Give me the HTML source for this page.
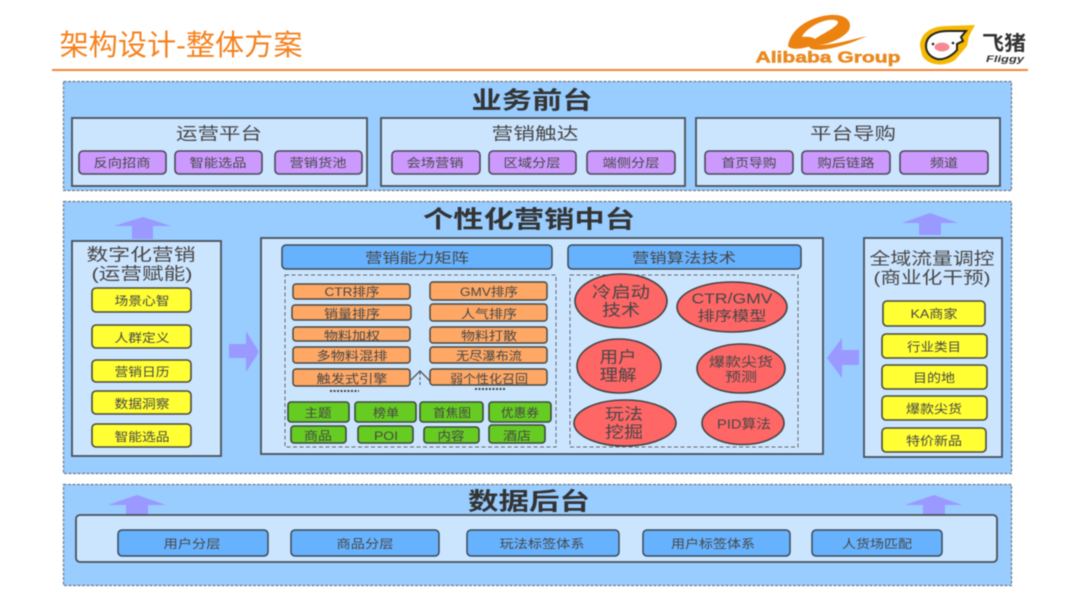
<!DOCTYPE html>
<html lang="zh"><head><meta charset="utf-8"><style>
html,body{margin:0;padding:0;background:#fff;width:1080px;height:603px;overflow:hidden}
svg{display:block;filter:blur(.6px)}
text{font-family:"Liberation Sans","Noto Sans CJK SC",sans-serif;fill:#474747;text-anchor:middle;dominant-baseline:central;transform:translateY(1px)}
.panel{fill:#99ccff;stroke:#6e7b88;stroke-width:1.2;stroke-dasharray:3 1.5}
.box{fill:#cce5ff;stroke:#4a5058;stroke-width:1.8}
.p{fill:#cc99ff;stroke:#4a4a55;stroke-width:1.6}
.y{fill:#ffff33;stroke:#4a4a40;stroke-width:1.6}
.o{fill:#ffa866;stroke:#4a4a40;stroke-width:1.5}
.g{fill:#66cc22;stroke:#3d4a3d;stroke-width:1.6}
.b{fill:#66b2ff;stroke:#3d4a55;stroke-width:1.5}
.e{fill:#ff6666;stroke:#444;stroke-width:1.6}
.d{fill:none;stroke:#666;stroke-width:1;stroke-dasharray:4 2.5}
.a{fill:#9999ff}
.h{font-size:24px;font-weight:bold;fill:#333}
.t{font-size:17px}.s{font-size:12px}
</style></head><body>
<svg width="1080" height="603" viewBox="0 0 1080 603" xmlns="http://www.w3.org/2000/svg">
<text x="181" y="45" textLength="243" lengthAdjust="spacingAndGlyphs" style="font-size:29px;fill:#f5821f">架构设计-整体方案</text>
<line x1="52" y1="70" x2="1028" y2="70" stroke="#f5853a" stroke-width="2"/>
<path d="M788 46C790 30 808 17 830 15C845 14 853 21 849 30C844 38 826 46 815 45C830 46 850 40 867 36C850 44 825 52 812 49C806 47 810 42 818 37C828 31 838 26 838 22C836 18 822 19 810 28C806 31 803 34 802 37C810 36 818 38 816 43C812 47 792 52 788 46Z" fill="#ec8210"/>
<text x="828" y="57" textLength="145" lengthAdjust="spacingAndGlyphs" style="font-size:16px;font-weight:bold;fill:#e98a20;stroke:#e98a20;stroke-width:.5">Alibaba Group</text>
<path d="M920 46C920 33 932 26 947 26L975 25L969 36L967 46L955 60C945 67 927 66 922 55Z" fill="#f6b800"/>
<path d="M926 46C926 36 935 31 948 31L966 31L961 37L963 41L957 44L957 50C950 58 942 60 937 59C930 57 926 52 926 46Z" fill="#fff" stroke="#222" stroke-width="2"/>
<ellipse cx="942" cy="47" rx="7.5" ry="4.500" fill="#f58a94"/><circle cx="933" cy="44" r="1.300" fill="#222"/><circle cx="953" cy="43" r="1.300" fill="#222"/>
<text x="1004" y="43" textLength="44" lengthAdjust="spacingAndGlyphs" style="font-size:20px;font-weight:bold;fill:#333">飞猪</text>
<text x="1005" y="58" textLength="38" lengthAdjust="spacingAndGlyphs" style="font-size:9px;font-weight:bold;font-style:italic;fill:#333">Fliggy</text>

<rect class="panel" x="63.5" y="81.5" width="948" height="109"/>
<rect class="panel" x="63.5" y="201.5" width="948" height="272"/>
<rect class="panel" x="63.5" y="484.5" width="948" height="101"/>

<text class="h" x="532" y="100" textLength="121" lengthAdjust="spacingAndGlyphs">业务前台</text>
<text class="h" x="529" y="219" textLength="212" lengthAdjust="spacingAndGlyphs">个性化营销中台</text>
<text class="h" x="529" y="501" textLength="122" lengthAdjust="spacingAndGlyphs">数据后台</text>

<rect class="box" x="72" y="118" width="295" height="68"/>
<rect class="box" x="381" y="118" width="304" height="68"/>
<rect class="box" x="696" y="118" width="304" height="68"/>
<text class="t" x="219" y="133" textLength="86" lengthAdjust="spacingAndGlyphs">运营平台</text><text class="t" x="535" y="133" textLength="87" lengthAdjust="spacingAndGlyphs">营销触达</text><text class="t" x="853" y="133" textLength="86" lengthAdjust="spacingAndGlyphs">平台导购</text>

<rect class="p" x="79" y="151" width="87" height="23" rx="4"/><text class="s" x="122" y="162" textLength="57" lengthAdjust="spacingAndGlyphs">反向招商</text>
<rect class="p" x="175" y="151" width="87" height="23" rx="4"/><text class="s" x="218" y="162" textLength="57" lengthAdjust="spacingAndGlyphs">智能选品</text>
<rect class="p" x="275" y="151" width="87" height="23" rx="4"/><text class="s" x="318" y="162" textLength="57" lengthAdjust="spacingAndGlyphs">营销货池</text>
<rect class="p" x="392" y="151" width="88" height="23" rx="4"/><text class="s" x="435" y="162" textLength="57" lengthAdjust="spacingAndGlyphs">会场营销</text>
<rect class="p" x="489" y="151" width="87" height="23" rx="4"/><text class="s" x="532" y="162" textLength="57" lengthAdjust="spacingAndGlyphs">区域分层</text>
<rect class="p" x="587" y="151" width="88" height="23" rx="4"/><text class="s" x="631" y="162" textLength="57" lengthAdjust="spacingAndGlyphs">端侧分层</text>
<rect class="p" x="705" y="151" width="88" height="23" rx="4"/><text class="s" x="749" y="162" textLength="55" lengthAdjust="spacingAndGlyphs">首页导购</text>
<rect class="p" x="802" y="151" width="88" height="23" rx="4"/><text class="s" x="846" y="162" textLength="57" lengthAdjust="spacingAndGlyphs">购后链路</text>
<rect class="p" x="900" y="151" width="88" height="23" rx="4"/><text class="s" x="944" y="162" textLength="28" lengthAdjust="spacingAndGlyphs">频道</text>

<polygon class="a" points="143,217 171,226 153,226 153,239 132,239 132,226 114,226"/>
<polygon class="a" points="930,213 958,223 941,223 941,235 919,235 919,223 902,223"/>
<polygon class="a" points="259,352 246,331 246,344 229,344 229,358 246,358 246,372"/>
<polygon class="a" points="827,358 842,338 842,350 859,350 859,365 842,365 842,378"/>
<polygon class="a" points="137,495 166,505 148,505 148,515 126,515 126,505 108,505"/>
<polygon class="a" points="934,495 962,505 945,505 945,515 923,515 923,505 905,505"/>

<rect class="box" x="72" y="241" width="149" height="215"/>
<text class="t" x="141" y="254" textLength="109" lengthAdjust="spacingAndGlyphs">数字化营销</text><text class="t" x="142" y="273" textLength="101" lengthAdjust="spacingAndGlyphs">(运营赋能)</text>
<rect class="y" x="92" y="288" width="99" height="24" rx="4"/><text class="s" x="142" y="300" textLength="55" lengthAdjust="spacingAndGlyphs">场景心智</text>
<rect class="y" x="92" y="325" width="99" height="23" rx="4"/><text class="s" x="142" y="337" textLength="55" lengthAdjust="spacingAndGlyphs">人群定义</text>
<rect class="y" x="92" y="360" width="99" height="22" rx="4"/><text class="s" x="142" y="371" textLength="55" lengthAdjust="spacingAndGlyphs">营销日历</text>
<rect class="y" x="92" y="391" width="99" height="23" rx="4"/><text class="s" x="142" y="403" textLength="55" lengthAdjust="spacingAndGlyphs">数据洞察</text>
<rect class="y" x="92" y="424" width="99" height="23" rx="4"/><text class="s" x="142" y="436" textLength="55" lengthAdjust="spacingAndGlyphs">智能选品</text>

<rect class="box" x="261" y="238" width="562" height="216"/>
<rect class="b" x="282" y="245" width="270" height="24" rx="4"/><text x="417" y="257" textLength="104" lengthAdjust="spacingAndGlyphs" style="font-size:14px">营销能力矩阵</text>
<rect class="b" x="568" y="245" width="233" height="24" rx="4"/><text x="684" y="257" textLength="104" lengthAdjust="spacingAndGlyphs" style="font-size:14px">营销算法技术</text>
<rect class="d" x="285" y="275" width="271" height="172"/>
<rect class="d" x="570" y="275" width="228" height="172"/>

<rect class="o" x="293" y="284" width="117" height="15" rx="3"/><text class="s" x="352" y="291" textLength="55" lengthAdjust="spacingAndGlyphs">CTR排序</text>
<rect class="o" x="292" y="305" width="119" height="15" rx="3"/><text class="s" x="352" y="313" textLength="56" lengthAdjust="spacingAndGlyphs">销量排序</text>
<rect class="o" x="293" y="327" width="117" height="14" rx="3"/><text class="s" x="352" y="335" textLength="56" lengthAdjust="spacingAndGlyphs">物料加权</text>
<rect class="o" x="293" y="347" width="117" height="16" rx="3"/><text class="s" x="352" y="355" textLength="71" lengthAdjust="spacingAndGlyphs">多物料混排</text>
<rect class="o" x="293" y="369" width="117" height="17" rx="3"/><text class="s" x="352" y="378" textLength="71" lengthAdjust="spacingAndGlyphs">触发式引擎</text>
<rect class="o" x="430" y="282" width="117" height="18" rx="3"/><text class="s" x="489" y="291" textLength="58" lengthAdjust="spacingAndGlyphs">GMV排序</text>
<rect class="o" x="430" y="304" width="117" height="17" rx="3"/><text class="s" x="489" y="313" textLength="56" lengthAdjust="spacingAndGlyphs">人气排序</text>
<rect class="o" x="430" y="327" width="117" height="16" rx="3"/><text class="s" x="489" y="335" textLength="56" lengthAdjust="spacingAndGlyphs">物料打散</text>
<rect class="o" x="430" y="347" width="117" height="16" rx="3"/><text class="s" x="489" y="355" textLength="66" lengthAdjust="spacingAndGlyphs">无尽瀑布流</text>
<rect class="o" x="430" y="369" width="117" height="16" rx="3"/><text class="s" x="489" y="378" textLength="78" lengthAdjust="spacingAndGlyphs">弱个性化召回</text>
<polyline points="411,380 420,371 430,381" fill="none" stroke="#444" stroke-width="1.2"/>
<line x1="420" y1="372" x2="420" y2="387" stroke="#555" stroke-width="1" stroke-dasharray="3 2"/>
<line x1="330" y1="391" x2="359" y2="391" stroke="#444" stroke-width="2" stroke-dasharray="2 1.5"/>
<line x1="475" y1="389" x2="505" y2="389" stroke="#444" stroke-width="2" stroke-dasharray="2 1.5"/>

<rect class="g" x="288" y="402" width="61" height="20" rx="3"/><text class="s" x="318" y="412" textLength="27" lengthAdjust="spacingAndGlyphs">主题</text>
<rect class="g" x="355" y="402" width="61" height="20" rx="3"/><text class="s" x="386" y="412" textLength="26" lengthAdjust="spacingAndGlyphs">榜单</text>
<rect class="g" x="420" y="402" width="63" height="20" rx="3"/><text class="s" x="452" y="412" textLength="38" lengthAdjust="spacingAndGlyphs">首焦图</text>
<rect class="g" x="489" y="402" width="62" height="20" rx="3"/><text class="s" x="520" y="412" textLength="38" lengthAdjust="spacingAndGlyphs">优惠券</text>
<rect class="g" x="291" y="426" width="55" height="17" rx="3"/><text class="s" x="318" y="435" textLength="28" lengthAdjust="spacingAndGlyphs">商品</text>
<rect class="g" x="358" y="426" width="55" height="17" rx="3"/><text class="s" x="386" y="435" textLength="24" lengthAdjust="spacingAndGlyphs">POI</text>
<rect class="g" x="424" y="427" width="55" height="16" rx="3"/><text class="s" x="451" y="435" textLength="27" lengthAdjust="spacingAndGlyphs">内容</text>
<rect class="g" x="489" y="425" width="56" height="18" rx="3"/><text class="s" x="517" y="435" textLength="28" lengthAdjust="spacingAndGlyphs">酒店</text>

<ellipse class="e" cx="621" cy="301" rx="46" ry="27"/><text x="621" y="292" textLength="58" lengthAdjust="spacingAndGlyphs" style="font-size:16px">冷启动</text><text x="621" y="310" textLength="38" lengthAdjust="spacingAndGlyphs" style="font-size:16px">技术</text>
<ellipse class="e" cx="732" cy="307" rx="55" ry="25"/><text x="732" y="298" textLength="81" lengthAdjust="spacingAndGlyphs" style="font-size:15px">CTR/GMV</text><text x="732" y="315" textLength="69" lengthAdjust="spacingAndGlyphs" style="font-size:14px">排序模型</text>
<ellipse class="e" cx="619" cy="366" rx="42" ry="27"/><text x="618" y="357" textLength="37" lengthAdjust="spacingAndGlyphs" style="font-size:16px">用户</text><text x="618" y="375" textLength="37" lengthAdjust="spacingAndGlyphs" style="font-size:16px">理解</text>
<ellipse class="e" cx="741" cy="368.500" rx="44" ry="24.500"/><text x="741" y="361" textLength="64" lengthAdjust="spacingAndGlyphs" style="font-size:13px">爆款尖货</text><text x="741" y="376" textLength="32" lengthAdjust="spacingAndGlyphs" style="font-size:13px">预测</text>
<ellipse class="e" cx="625" cy="423" rx="51" ry="23"/><text x="624" y="414" textLength="38" lengthAdjust="spacingAndGlyphs" style="font-size:16px">玩法</text><text x="624" y="432" textLength="38" lengthAdjust="spacingAndGlyphs" style="font-size:16px">挖掘</text>
<ellipse class="e" cx="743" cy="423" rx="41" ry="21.500"/><text x="744" y="423" textLength="54" lengthAdjust="spacingAndGlyphs" style="font-size:13px">PID算法</text>

<rect class="box" x="864" y="238" width="138" height="219"/>
<text class="t" x="932" y="258" textLength="125" lengthAdjust="spacingAndGlyphs">全域流量调控</text><text class="t" x="932" y="277" textLength="117" lengthAdjust="spacingAndGlyphs">(商业化干预)</text>
<rect class="y" x="883" y="301" width="102" height="25" rx="4"/><text class="s" x="934" y="313" textLength="47" lengthAdjust="spacingAndGlyphs">KA商家</text>
<rect class="y" x="882" y="334" width="105" height="24" rx="4"/><text class="s" x="934" y="346" textLength="54" lengthAdjust="spacingAndGlyphs">行业类目</text>
<rect class="y" x="882" y="365" width="105" height="24" rx="4"/><text class="s" x="934" y="377" textLength="42" lengthAdjust="spacingAndGlyphs">目的地</text>
<rect class="y" x="882" y="396" width="105" height="24" rx="4"/><text class="s" x="934" y="408" textLength="56" lengthAdjust="spacingAndGlyphs">爆款尖货</text>
<rect class="y" x="882" y="428" width="104" height="24" rx="4"/><text class="s" x="934" y="440" textLength="56" lengthAdjust="spacingAndGlyphs">特价新品</text>

<rect x="76" y="515" width="921" height="47" rx="4" fill="#cce5ff" stroke="#4a5058" stroke-width="1.8"/>
<rect class="b" x="118" y="530" width="150" height="26" rx="4"/><text class="s" x="192" y="543" textLength="57" lengthAdjust="spacingAndGlyphs">用户分层</text>
<rect class="b" x="291" y="530" width="148" height="26" rx="4"/><text class="s" x="365" y="543" textLength="57" lengthAdjust="spacingAndGlyphs">商品分层</text>
<rect class="b" x="467" y="530" width="152" height="26" rx="4"/><text class="s" x="542" y="543" textLength="85" lengthAdjust="spacingAndGlyphs">玩法标签体系</text>
<rect class="b" x="643" y="530" width="147" height="26" rx="4"/><text class="s" x="713" y="543" textLength="84" lengthAdjust="spacingAndGlyphs">用户标签体系</text>
<rect class="b" x="812" y="530" width="130" height="26" rx="4"/><text class="s" x="877" y="543" textLength="70" lengthAdjust="spacingAndGlyphs">人货场匹配</text>
</svg>
</body></html>
